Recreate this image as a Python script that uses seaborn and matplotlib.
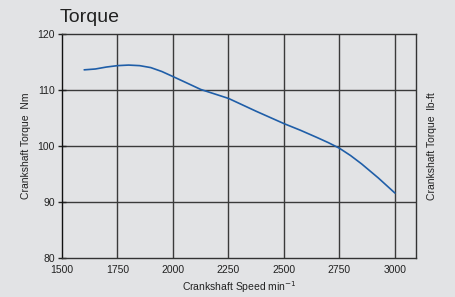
import matplotlib
matplotlib.use("Agg")
import matplotlib.pyplot as plt
import seaborn as sns
import pandas as pd

rpm = [1600, 1650, 1700, 1750, 1800, 1850, 1900, 1950, 2000, 2060, 2125, 2250, 2375, 2500, 2575, 2650, 2700, 2750, 2800, 2850, 2925, 3000]
torque = [113.6, 113.75, 114.1, 114.35, 114.45, 114.35, 114.0, 113.3, 112.4, 111.3, 110.1, 108.5, 106.2, 104.0, 102.8, 101.5, 100.6, 99.6, 98.3, 96.8, 94.3, 91.6]
x_ticks = [1500, 1750, 2000, 2250, 2500, 2750, 3000]
y_ticks = [80, 90, 100, 110, 120]

sns.set_theme(style="white")
plt.rcParams['font.family'] = ['Liberation Sans Narrow', 'Liberation Sans', 'DejaVu Sans']
bg = "#e2e3e5"
fig = plt.figure(figsize=(4.55, 2.97), dpi=100, facecolor=bg)
ax = fig.add_axes([62/455, 1 - 258/297, (416-62)/455, (258-34)/297])
ax.set_facecolor(bg)

df = pd.DataFrame({"rpm": rpm, "torque": torque})
sns.lineplot(data=df, x="rpm", y="torque", ax=ax, color="#1f5ea8", linewidth=1.2)

ax.set_xlim(1500, 3095)
ax.set_ylim(80, 120)
ax.set_xticks(x_ticks)
ax.set_yticks(y_ticks)
ax.tick_params(axis="both", labelsize=7.5, colors="#222222", length=3, width=1, pad=2)
ax.tick_params(axis="y", direction="inout", length=6)
ax.tick_params(axis="x", length=0, pad=5)
for x in x_ticks[1:]:
    ax.axvline(x, color="#3a3a3a", linewidth=1.0, zorder=0.5)
for y in [90, 100, 110]:
    ax.axhline(y, color="#3a3a3a", linewidth=1.0, zorder=0.5)
for s in ax.spines.values():
    s.set_color("#333333")
    s.set_linewidth(1.0)
ax.spines["left"].set_color("#111111")
ax.set_xlabel("Crankshaft Speed min$^{-1}$", fontsize=7.5, color="#222222", labelpad=3)
ax.set_ylabel("Crankshaft Torque  Nm", fontsize=7.5, color="#222222", labelpad=5)

ax2 = ax.twinx()
ax2.set_ylim(80, 120)
ax2.set_yticks([])
ax2.set_ylabel("Crankshaft Torque  lb-ft", fontsize=7.5, color="#222222", labelpad=8)
for s in ax2.spines.values():
    s.set_visible(False)

fig.text(60/455, 1 - 18/297, "Torque", fontsize=14, color="#222222", va="center", ha="left",
         family=['Liberation Sans', 'DejaVu Sans'])

fig.savefig("out.png", dpi=100, facecolor=bg)
